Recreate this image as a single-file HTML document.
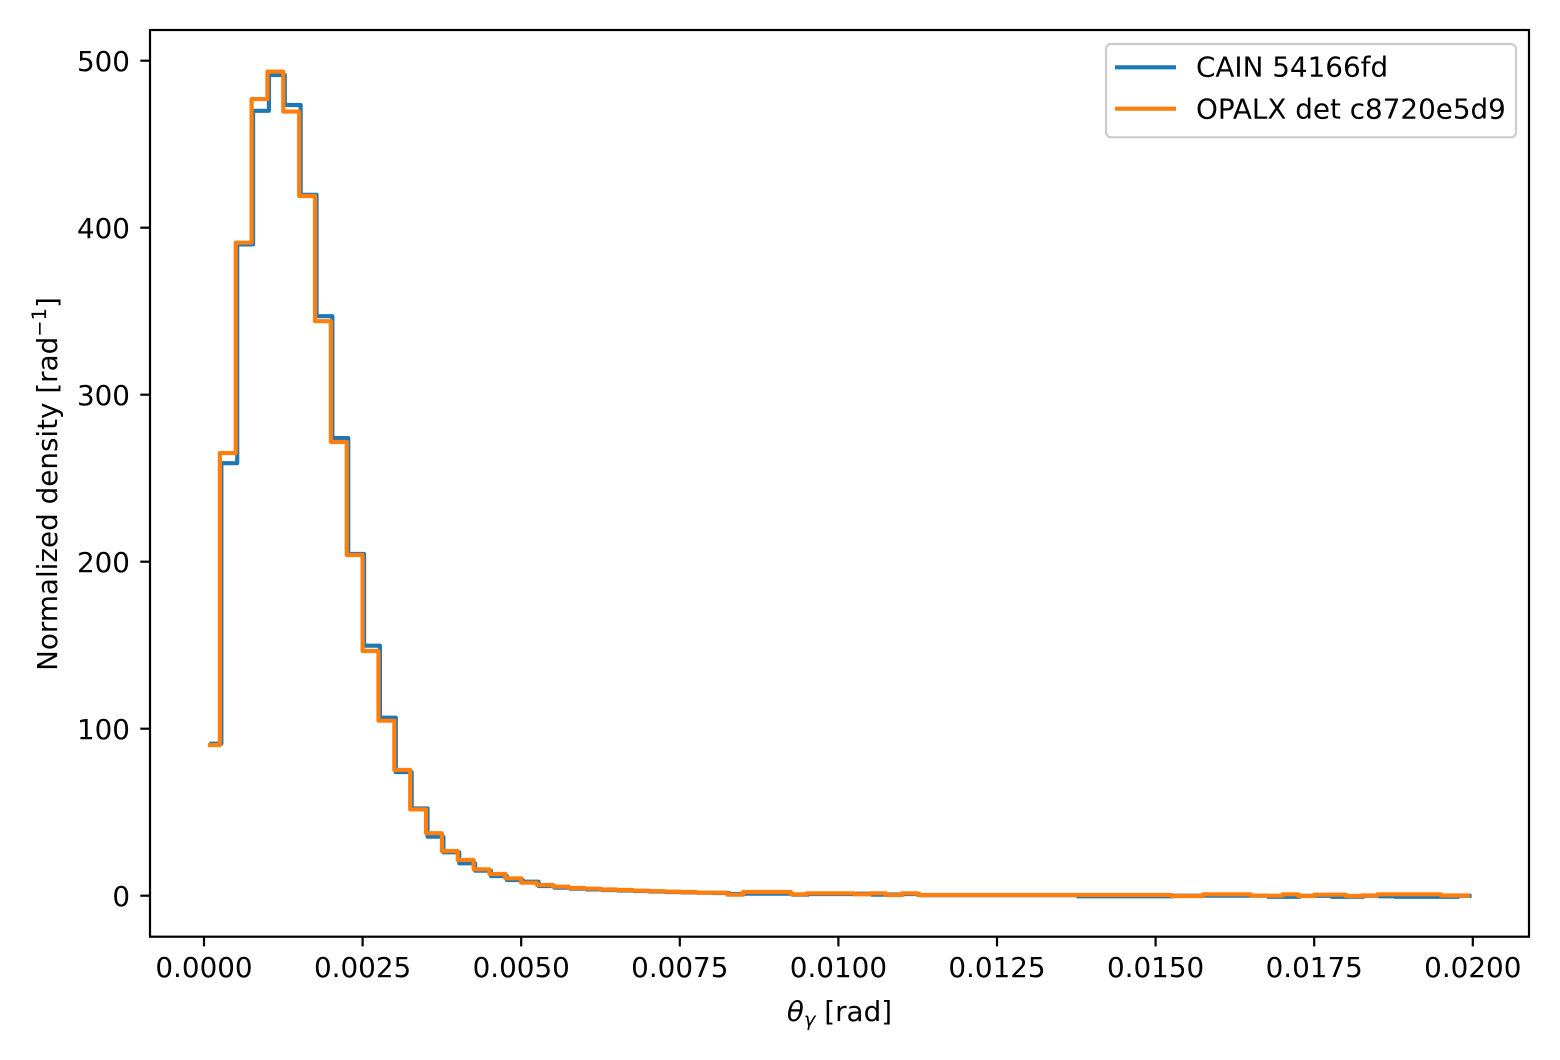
<!DOCTYPE html>
<html>
<head>
<meta charset="utf-8">
<style>
html,body{margin:0;padding:0;background:#fff;}
svg{display:block;}
text{font-family:"DejaVu Sans","Liberation Sans",sans-serif;fill:#000;}
</style>
</head>
<body>
<svg width="1560" height="1060" viewBox="0 0 1560 1060" xmlns="http://www.w3.org/2000/svg">
<defs>
<clipPath id="ax"><rect x="150" y="30" width="1379" height="906.7"/></clipPath>
</defs>
<rect x="0" y="0" width="1560" height="1060" fill="#fff"/>

<g clip-path="url(#ax)" fill="none" stroke-width="4.17" stroke-linejoin="round" stroke-linecap="square">
<!-- blue CAIN -->
<path transform="translate(1.5,0)" stroke="#1f77b4" d="M210 743.7 H219.86 V463.2 H235.72 V244.4 H251.58 V110.8 H267.44 V75.0 H283.30 V105.0 H299.16 V194.8 H315.02 V316.2 H330.88 V438.1 H346.74 V554.0 H362.60 V645.7 H378.46 V717.7 H394.32 V772.1 H410.18 V808.4 H426.04 V836.7 H441.90 V852.3 H457.76 V863.3 H473.62 V870.7 H489.48 V876.0 H505.34 V880.0 H521.20 V881.7 H537.06 V886.0 H552.92 V887.7 H568.78 V888.7 H584.64 V889.4 H600.50 V890.0 H616.36 V890.5 H632.22 V891.0 H648.08 V891.5 H663.94 V892.0 H679.80 V892.4 H695.66 V892.7 H711.52 V893.0 H727.38 V894.0 H743.24 V893.7 H790.82 V894.7 H806.68 V894.0 H854.26 V893.7 H870.12 V894.7 H885.98 V894.5 H901.84 V894.0 H917.70 V895.2 H1076.30 V896.3 H1171.46 V895.7 H1266.62 V896.8 H1298.34 V895.8 H1330.06 V896.8 H1361.78 V895.8 H1377.64 V896.3 H1393.50 V896.8 H1456.94 V895.8 H1468"/>
<!-- orange OPALX -->
<path stroke="#ff7f0e" d="M210 745.1 H219.86 V453.1 H235.72 V242.7 H251.58 V99.1 H267.44 V71.6 H283.30 V111.6 H299.16 V196.0 H315.02 V321.2 H330.88 V442.0 H346.74 V555.0 H362.60 V651.0 H378.46 V720.7 H394.32 V769.9 H410.18 V809.4 H426.04 V833.2 H441.90 V851.0 H457.76 V860.0 H473.62 V869.3 H489.48 V874.0 H505.34 V878.3 H521.20 V882.7 H537.06 V885.0 H552.92 V886.7 H568.78 V888.0 H584.64 V888.7 H600.50 V889.5 H616.36 V890.0 H632.22 V890.7 H648.08 V891.2 H663.94 V891.7 H679.80 V892.0 H695.66 V892.7 H727.38 V894.7 H743.24 V892.0 H790.82 V894.3 H806.68 V893.3 H854.26 V894.3 H870.12 V893.3 H885.98 V895.0 H901.84 V893.3 H917.70 V895.0 H1171.46 V896.0 H1203.18 V894.3 H1250.76 V895.7 H1282.48 V894.3 H1298.34 V896.0 H1314.20 V894.7 H1345.92 V896.0 H1361.78 V895.5 H1377.64 V894.3 H1441.08 V895.5 H1468"/>
</g>

<!-- axes frame -->
<rect x="150" y="30" width="1379" height="906.7" fill="none" stroke="#000" stroke-width="2.2"/>

<!-- y ticks -->
<g stroke="#000" stroke-width="2.2">
<line x1="140.3" y1="895.7" x2="150" y2="895.7"/>
<line x1="140.3" y1="728.7" x2="150" y2="728.7"/>
<line x1="140.3" y1="561.7" x2="150" y2="561.7"/>
<line x1="140.3" y1="394.7" x2="150" y2="394.7"/>
<line x1="140.3" y1="227.7" x2="150" y2="227.7"/>
<line x1="140.3" y1="60.7" x2="150" y2="60.7"/>
</g>
<g font-size="27.8" text-anchor="end">
<text x="130" y="905.8">0</text>
<text x="130" y="738.8">100</text>
<text x="130" y="571.8">200</text>
<text x="130" y="404.8">300</text>
<text x="130" y="237.8">400</text>
<text x="130" y="70.8">500</text>
</g>

<!-- x ticks -->
<g stroke="#000" stroke-width="2.2">
<line x1="204" y1="936.7" x2="204" y2="946.4"/>
<line x1="362.6" y1="936.7" x2="362.6" y2="946.4"/>
<line x1="521.2" y1="936.7" x2="521.2" y2="946.4"/>
<line x1="679.8" y1="936.7" x2="679.8" y2="946.4"/>
<line x1="838.4" y1="936.7" x2="838.4" y2="946.4"/>
<line x1="997" y1="936.7" x2="997" y2="946.4"/>
<line x1="1155.6" y1="936.7" x2="1155.6" y2="946.4"/>
<line x1="1314.2" y1="936.7" x2="1314.2" y2="946.4"/>
<line x1="1472.8" y1="936.7" x2="1472.8" y2="946.4"/>
</g>
<g font-size="27.8" text-anchor="middle">
<text x="204" y="977">0.0000</text>
<text x="362.6" y="977">0.0025</text>
<text x="521.2" y="977">0.0050</text>
<text x="679.8" y="977">0.0075</text>
<text x="838.4" y="977">0.0100</text>
<text x="997" y="977">0.0125</text>
<text x="1155.6" y="977">0.0150</text>
<text x="1314.2" y="977">0.0175</text>
<text x="1472.8" y="977">0.0200</text>
</g>

<!-- x label -->
<text x="839.5" y="1021" font-size="27.8" text-anchor="middle"><tspan font-style="italic">θ</tspan><tspan font-style="italic" font-size="19.5" dy="5">γ</tspan><tspan dy="-5"> [rad]</tspan></text>

<!-- y label -->
<text transform="translate(57,484) rotate(-90)" font-size="27.8" text-anchor="middle">Normalized density [rad<tspan font-size="19.5" dy="-11">−1</tspan><tspan dy="11">]</tspan></text>

<!-- legend -->
<rect x="1106" y="44" width="410" height="93.3" rx="5" ry="5" fill="#fff" fill-opacity="0.8" stroke="#cccccc" stroke-width="2.2"/>
<line x1="1115" y1="67.3" x2="1176" y2="67.3" stroke="#1f77b4" stroke-width="4.17" stroke-linecap="butt"/>
<line x1="1115" y1="108.7" x2="1176" y2="108.7" stroke="#ff7f0e" stroke-width="4.17" stroke-linecap="butt"/>
<text x="1196" y="76.5" font-size="27.8">CAIN 54166fd</text>
<text x="1196" y="118.5" font-size="27.8">OPALX det c8720e5d9</text>
</svg>
</body>
</html>
